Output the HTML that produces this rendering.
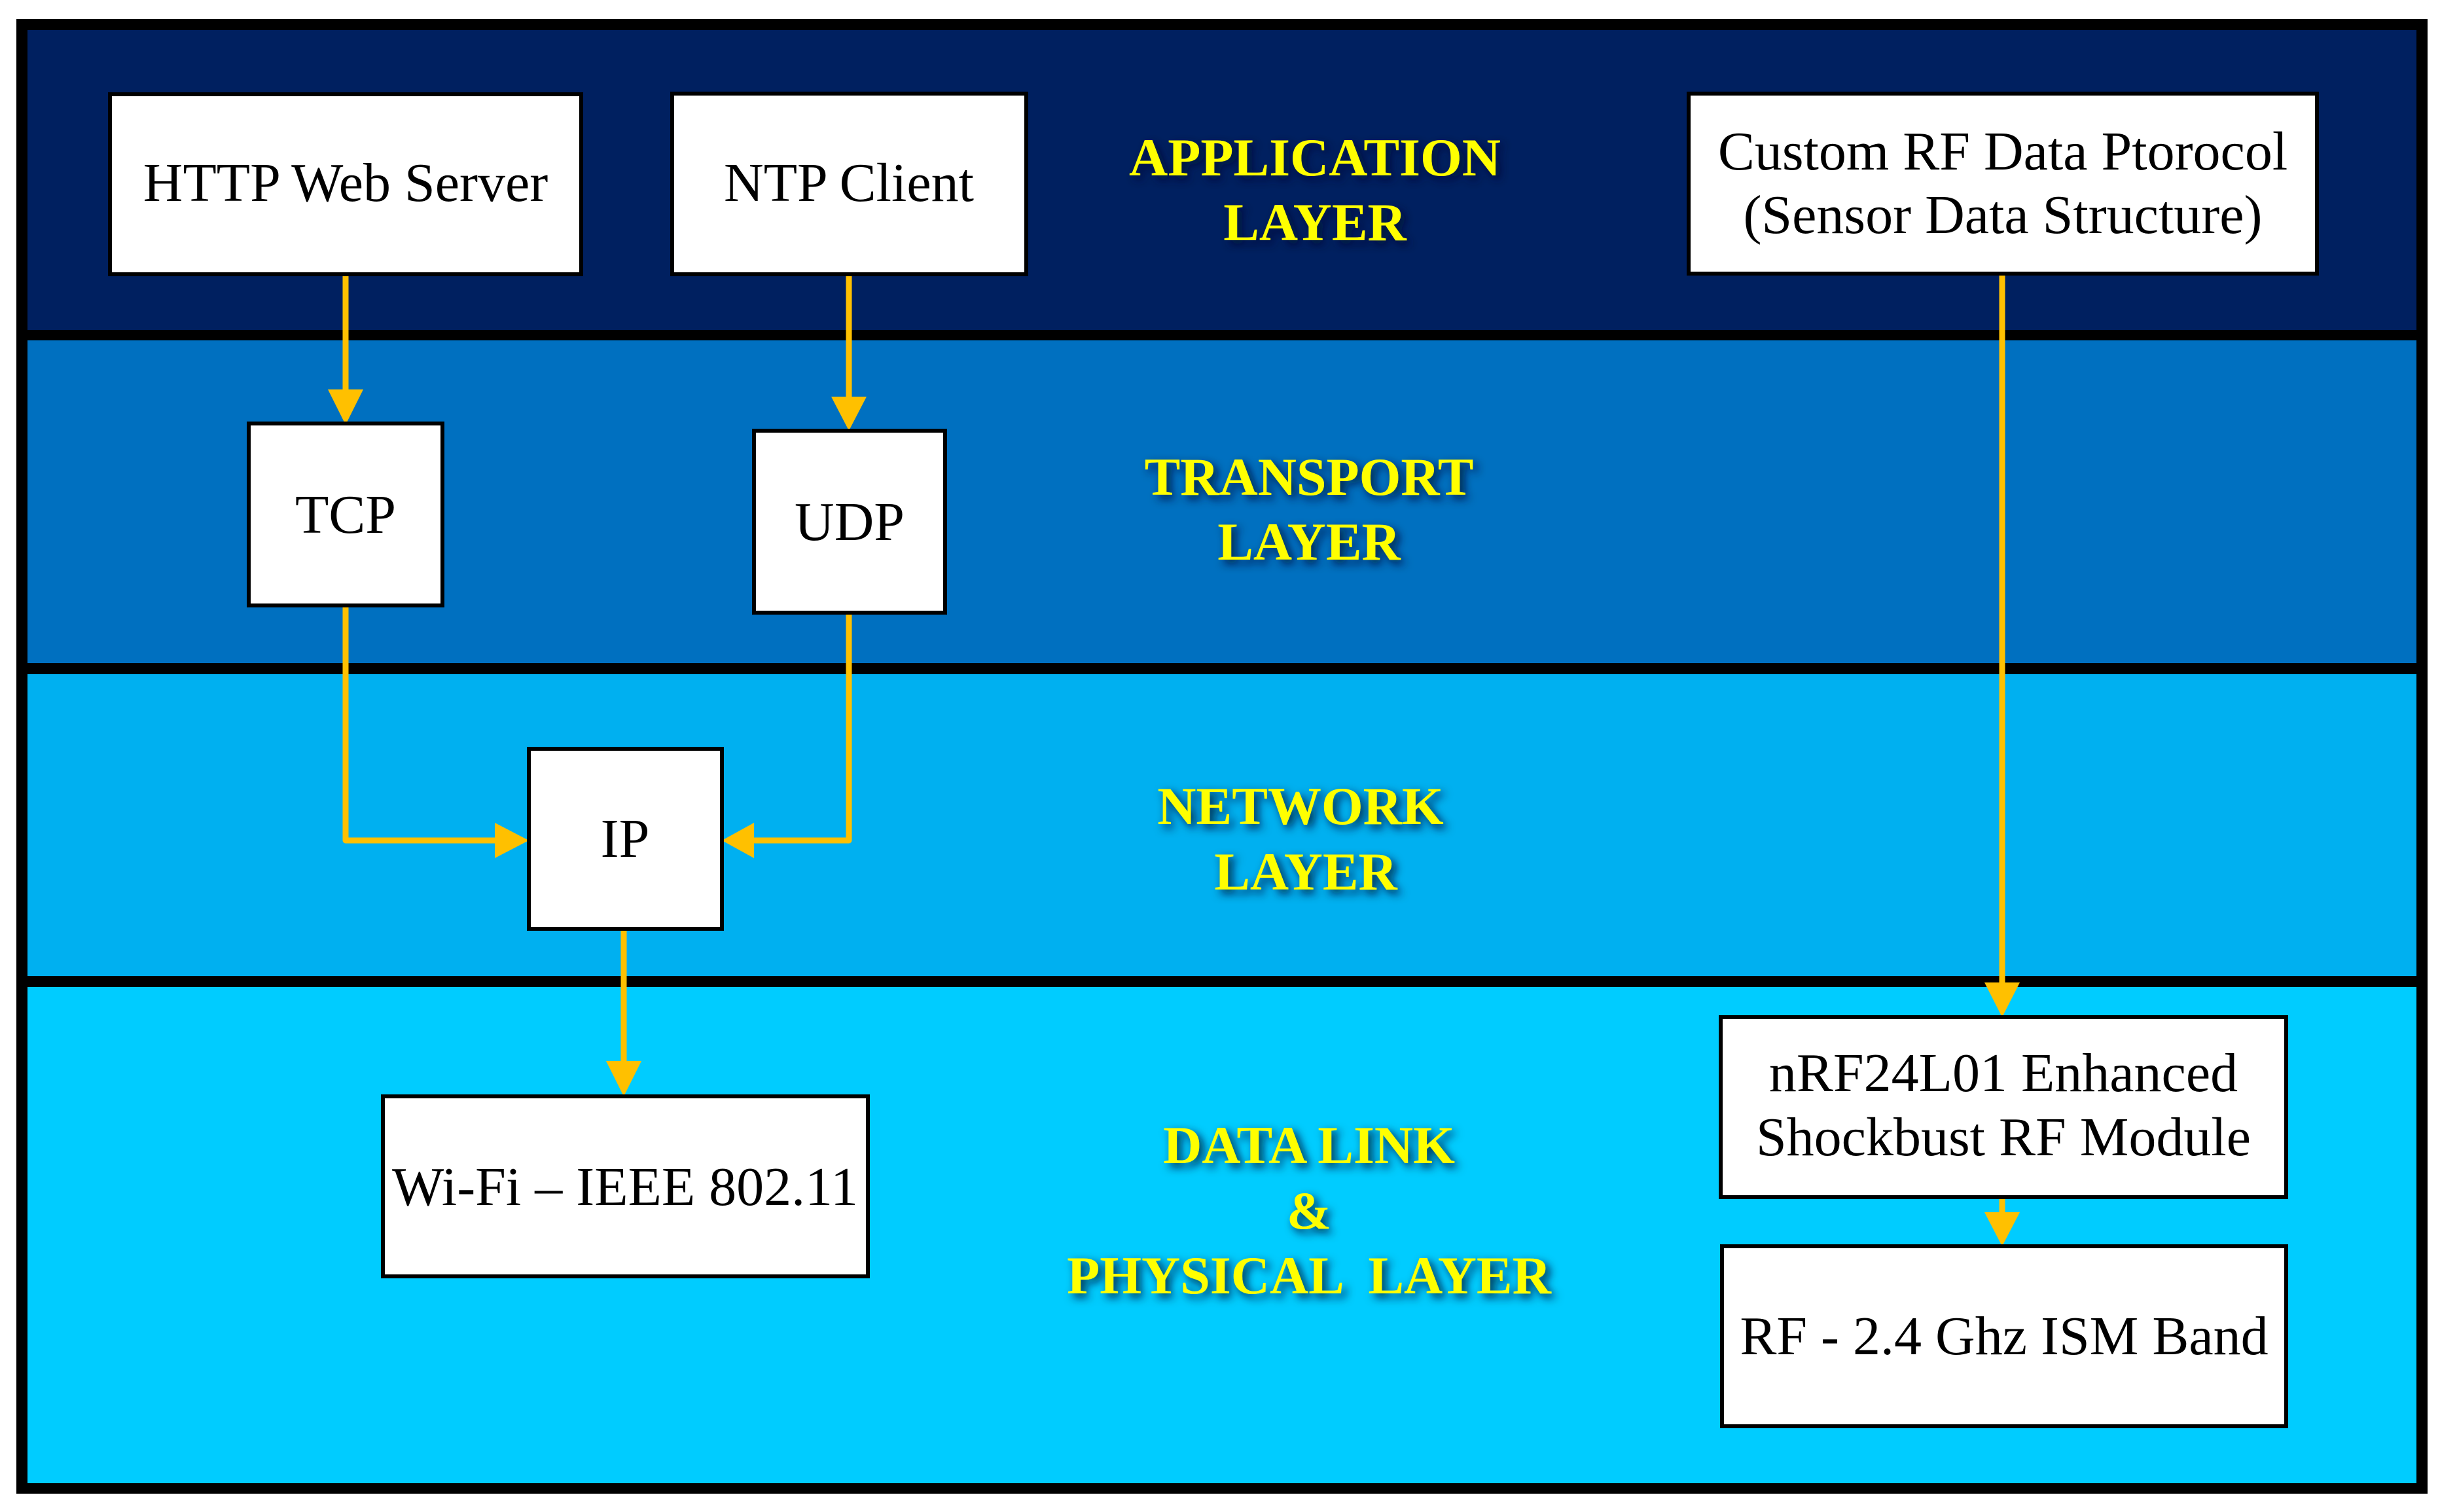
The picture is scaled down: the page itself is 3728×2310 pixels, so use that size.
<!DOCTYPE html>
<html><head><meta charset="utf-8"><style>
html,body{margin:0;padding:0;background:#fff;}
svg{display:block;}
.bx{fill:#fff;stroke:#000;stroke-width:6;}
.t{font-family:"Liberation Serif",serif;font-size:84px;fill:#000;text-anchor:middle;}
.y{font-family:"Liberation Serif",serif;font-weight:bold;font-size:82px;fill:#FFFF00;text-anchor:middle;filter:url(#sh);}
.ln{stroke:#FFC000;stroke-width:9;fill:none;stroke-linecap:round;stroke-linejoin:round;}
.ah{fill:#FFC000;}
</style></head><body>
<svg width="3728" height="2310" viewBox="0 0 3728 2310" xmlns="http://www.w3.org/2000/svg">
<defs>
<filter id="sh" x="-20%" y="-40%" width="140%" height="180%">
<feGaussianBlur in="SourceAlpha" stdDeviation="7"/>
<feOffset dx="6" dy="6" result="b"/>
<feFlood flood-color="#001030" flood-opacity="0.9"/>
<feComposite in2="b" operator="in"/>
<feMerge><feMergeNode/><feMergeNode in="SourceGraphic"/></feMerge>
</filter>
</defs>
<rect x="25" y="29" width="3684" height="2253" fill="#000"/>
<rect x="42" y="46" width="3650" height="458" fill="#002060"/>
<rect x="42" y="520" width="3650" height="493" fill="#0070C0"/>
<rect x="42" y="1030" width="3650" height="461" fill="#00B0F0"/>
<rect x="42" y="1508" width="3650" height="758" fill="#00CCFF"/>

<line class="ln" x1="528" y1="419" x2="528" y2="600"/>
<polygon class="ah" points="501,595 555,595 528,649"/>
<line class="ln" x1="1297" y1="419" x2="1297" y2="610"/>
<polygon class="ah" points="1270,606 1324,606 1297,658"/>
<polyline class="ln" points="528,925 528,1284 760,1284"/>
<polygon class="ah" points="756,1257 756,1311 808,1284"/>
<polyline class="ln" points="1297,936 1297,1284 1150,1284"/>
<polygon class="ah" points="1152,1257 1152,1311 1103,1284"/>
<line class="ln" x1="953" y1="1419" x2="953" y2="1625"/>
<polygon class="ah" points="926,1621 980,1621 953,1675"/>
<line class="ln" x1="3059" y1="418" x2="3059" y2="1505"/>
<polygon class="ah" points="3032,1501 3086,1501 3059,1554"/>
<line class="ln" x1="3059" y1="1829" x2="3059" y2="1860"/>
<polygon class="ah" points="3032,1852 3086,1852 3059,1904"/>

<rect class="bx" x="168" y="144" width="720" height="275"/>
<text class="t" x="528" y="307">HTTP Web Server</text>
<rect class="bx" x="1027" y="143" width="541" height="276"/>
<text class="t" x="1297" y="307">NTP Client</text>
<rect class="bx" x="2580" y="143" width="960" height="275"/>
<text class="t" x="3060" y="259">Custom RF Data Ptorocol</text>
<text class="t" x="3060" y="356">(Sensor Data Structure)</text>
<rect class="bx" x="380" y="647" width="296" height="278"/>
<text class="t" x="528" y="814">TCP</text>
<rect class="bx" x="1152" y="658" width="292" height="278"/>
<text class="t" x="1298" y="825">UDP</text>
<rect class="bx" x="808" y="1144" width="295" height="275"/>
<text class="t" x="955" y="1309">IP</text>
<rect class="bx" x="585" y="1675" width="741" height="275"/>
<text class="t" x="955" y="1841">Wi-Fi – IEEE 802.11</text>
<rect class="bx" x="2629" y="1554" width="864" height="275"/>
<text class="t" x="3061" y="1667">nRF24L01 Enhanced</text>
<text class="t" x="3061" y="1765">Shockbust RF Module</text>
<rect class="bx" x="2631" y="1904" width="862" height="275"/>
<text class="t" x="3062" y="2069">RF - 2.4 Ghz ISM Band</text>

<text class="y" x="2009" y="268">APPLICATION</text>
<text class="y" x="2009" y="367">LAYER</text>
<text class="y" x="2000" y="756">TRANSPORT</text>
<text class="y" x="2000" y="855">LAYER</text>
<text class="y" x="1987" y="1259">NETWORK</text>
<text class="y" x="1995" y="1359">LAYER</text>
<text class="y" x="2000" y="1777">DATA LINK</text>
<text class="y" x="2000" y="1877">&amp;</text>
<text class="y" x="2000" y="1976" xml:space="preserve">PHYSICAL  LAYER</text>
</svg>
</body></html>
